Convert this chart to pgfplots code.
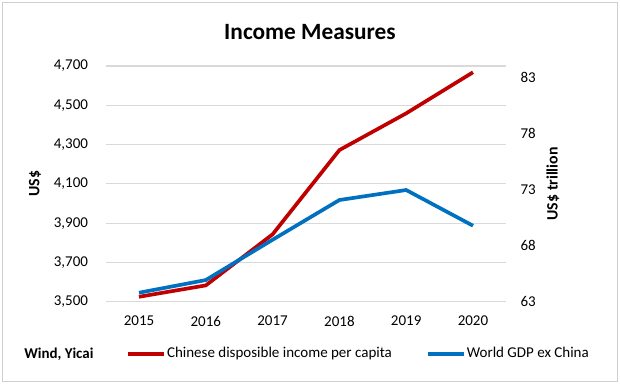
\documentclass[border=0pt]{standalone}
\usepackage{pgfplots}
\pgfplotsset{compat=1.18}
\usepackage{fontspec}
\setmainfont{Carlito}
\definecolor{cred}{HTML}{C00000}
\definecolor{cblue}{HTML}{0070C0}
\definecolor{cgrid}{HTML}{D9D9D9}
\definecolor{cborder}{HTML}{D0D0D0}
\begin{document}
\begin{tikzpicture}
\useasboundingbox (0pt,0pt) rectangle (372pt,230.4pt);
\fill[white] (0pt,0pt) rectangle (372pt,230.4pt);
\draw[cborder, line width=0.8pt] (1.5pt,1.5pt) rectangle (370.5pt,228.9pt);
\pgfplotsset{
  common/.style={
    at={(63.36pt,49.38pt)}, anchor=south west,
    scale only axis, width=240.48pt, height=141.42pt,
    xmin=-0.5, xmax=5.5,
    axis line style={draw=none},
    major tick length=0pt,
    tick label style={font=\fontsize{9}{11}\selectfont},
    /pgf/number format/assume math mode=true,
    /pgf/number format/1000 sep={,},
    scaled y ticks=false,
  }
}
\begin{axis}[common,
  ymin=3500, ymax=4700,
  xtick={0,1,2,3,4,5}, xticklabels={2015,2016,2017,2018,2019,2020},
  ytick={3500,3700,3900,4100,4300,4500,4700},
  ymajorgrids, grid style={cgrid, line width=0.7pt},
  yticklabel style={xshift=-7pt},
  xticklabel style={yshift=-5pt},
  ylabel={US\$},
  every axis y label/.style={at={(axis description cs:-0.176,0.5)}, rotate=90, anchor=center, font=\bfseries\fontsize{9.5}{11}\selectfont},
  legend image code/.code={\draw[#1, line width=2.2pt] (0pt,0pt) -- (21.6pt,0pt);},
  legend style={at={(axis description cs:0.051,-0.222)}, anchor=west, draw=none, fill=none,
    font=\fontsize{9}{11}\selectfont, legend columns=2, inner sep=0pt,
    nodes={inner sep=0.6pt},
    /tikz/every even column/.append style={column sep=20pt}},
]
\addplot[cred, line width=2.2pt] coordinates {(0,3525) (1,3583) (2,3843) (3,4272) (4,4459) (5,4668)};
\addlegendentry{Chinese disposible income per capita}
\addlegendimage{cblue}
\addlegendentry{World GDP ex China}
\end{axis}
\begin{axis}[common,
  ymin=63, ymax=84,
  axis y line*=right, axis x line=none,
  ytick={63,68,73,78,83},
  yticklabel style={xshift=5pt},
  ylabel={US\$ trillion},
  every axis y label/.style={at={(axis description cs:1.116,0.5)}, rotate=90, anchor=center, font=\bfseries\fontsize{9.5}{11}\selectfont},
]
\addplot[cblue, line width=2.2pt] coordinates {(0,63.80) (1,64.93) (2,68.52) (3,72.06) (4,72.95) (5,69.77)};
\end{axis}
\node[font=\bfseries\fontsize{14}{16}\selectfont] at (186pt,211.2pt) {Income Measures};
\node[font=\bfseries\fontsize{9}{11}\selectfont, anchor=west, inner sep=0pt] at (14.4pt,18pt) {Wind, Yicai};
\end{tikzpicture}
\end{document}
